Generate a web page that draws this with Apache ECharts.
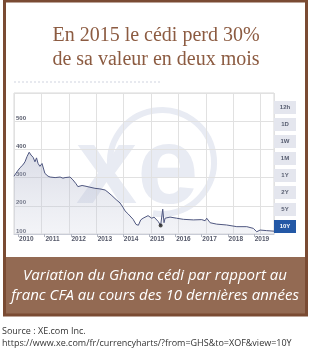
<!DOCTYPE html>
<html>
<head>
<meta charset="utf-8">
<script src="https://cdn.jsdelivr.net/npm/echarts@6/dist/echarts.min.js"></script>
<style>
  html, body { margin: 0; padding: 0; background: #ffffff; }
  #chart { width: 312px; height: 349px; }
</style>
</head>
<body>
<div id="chart"></div>
<script>
// ---- Data ----
var titleLines = ['En 2015 le cédi perd 30%', 'de sa valeur en deux mois'];
var captionLines = ['Variation du Ghana cédi par rapport au', 'franc CFA au cours des 10 dernières années'];
var sourceLines = ['Source : XE.com Inc.', 'https://www.xe.com/fr/currencyharts/?from=GHS&to=XOF&view=10Y'];
var rangeButtons = ['12h', '1D', '1W', '1M', '1Y', '2Y', '5Y', '10Y'];

// dates as fractional years, values in XOF per GHS
var dates = [2009.53, 2009.64, 2009.76, 2009.87, 2009.95, 2010.03, 2010.11, 2010.18, 2010.26, 2010.33,
  2010.39, 2010.45, 2010.52, 2010.60, 2010.64, 2010.71, 2010.83, 2010.91, 2011.10, 2011.29,
  2011.40, 2011.48, 2011.55, 2011.67, 2011.78, 2011.90, 2011.97, 2012.13, 2012.24, 2012.43,
  2012.62, 2012.81, 2013.01, 2013.12, 2013.27, 2013.43, 2013.58, 2013.69, 2013.77, 2013.88,
  2013.96, 2014.08, 2014.19, 2014.28, 2014.37, 2014.46, 2014.53, 2014.65, 2014.72, 2014.79,
  2014.88, 2014.92, 2015.04, 2015.13, 2015.21, 2015.26, 2015.30, 2015.49, 2015.74, 2016.00,
  2016.38, 2016.70, 2016.83, 2016.89, 2017.02, 2017.27, 2017.65, 2018.04, 2018.42, 2018.67,
  2018.80, 2018.93, 2019.18, 2019.46];
var rates = [305, 320, 335, 345, 356, 375, 390, 380, 372, 356,
  370, 350, 340, 350, 345, 315, 305, 302, 300, 302,
  298, 300, 296, 302, 292, 278, 268, 272, 270, 266,
  262, 260, 256, 248, 236, 222, 210, 195, 182, 172,
  164, 152, 134, 131, 150, 156, 158, 165, 168, 156,
  160, 158, 144, 130, 188, 140, 156, 160, 156, 152,
  150, 151, 147, 156, 140, 135, 132, 126, 126, 120,
  108, 114, 112, 110];
var markedDate = [2015.13];
var markedRate = [130];

var yearLabels = [2010, 2011, 2012, 2013, 2014, 2015, 2016, 2017, 2018, 2019];
var yearTicks = [2009.7, 2010.7, 2011.7, 2012.7, 2013.7, 2014.7, 2015.7, 2016.7, 2017.7, 2018.7];

// ---- Chart ----
var chart = echarts.init(document.getElementById('chart'), null, { renderer: 'canvas' });

var lineData = dates.map(function (d, i) { return [d, rates[i]]; });
var dotData = markedDate.map(function (d, i) { return [d, markedRate[i]]; });

var gridLeft = 14, gridTop = 93, gridRight = 38, gridBottom = 115;

var graphics = [];
// outer frame
graphics.push({ type: 'rect', z: 100, shape: { x: 4.5, y: 1, width: 302, height: 314 },
  style: { fill: null, stroke: '#7a4b33', lineWidth: 3 } });
// caption box
graphics.push({ type: 'rect', z: 99, shape: { x: 4.5, y: 257, width: 302, height: 58 },
  style: { fill: '#936a53', stroke: null } });
// title
titleLines.forEach(function (t, i) {
  graphics.push({ type: 'text', z: 101, x: 156, y: 36 + i * 24,
    style: { text: t, fill: '#8c5b41', font: '20px "Liberation Serif"', align: 'center', verticalAlign: 'middle' } });
});
// caption
captionLines.forEach(function (t, i) {
  graphics.push({ type: 'text', z: 101, x: 155, y: 276 + i * 20,
    style: { text: t, fill: '#ffffff', font: 'italic 15px "Open Sans"', align: 'center', verticalAlign: 'middle' } });
});
// source
sourceLines.forEach(function (t, i) {
  graphics.push({ type: 'text', z: 101, x: 2, y: 331 + i * 12,
    style: { text: t, fill: '#333333', font: '9px "Open Sans"', align: 'left', verticalAlign: 'middle' } });
});
// faint dotted header line
graphics.push({ type: 'line', z: 1, shape: { x1: 14, y1: 82, x2: 160, y2: 82 },
  style: { stroke: '#d0d4e0', lineWidth: 1, lineDash: [2, 2] } });
// range buttons
rangeButtons.forEach(function (b, i) {
  var active = (b === '10Y');
  var y0 = 101 + i * 17;
  graphics.push({ type: 'rect', z: 50, shape: { x: 274, y: y0, width: 22, height: 13 },
    style: { fill: active ? '#2358a6' : '#e4e6ee' } });
  graphics.push({ type: 'text', z: 51, x: 285, y: y0 + 6.5,
    style: { text: b, fill: active ? '#ffffff' : '#555b6e', font: 'bold 6px "Liberation Sans"', align: 'center', verticalAlign: 'middle' } });
});
// watermark logo
graphics.push({ type: 'arc', z: 0, shape: { cx: 162, cy: 162, r: 52, startAngle: 170 * Math.PI / 180, endAngle: 460 * Math.PI / 180, clockwise: true },
  style: { stroke: '#e8ebf3', lineWidth: 6, fill: null } });
graphics.push({ type: 'text', z: 0, x: 76, y: 118,
  style: { text: 'xe', fill: '#e8ebf3', font: 'bold 110px "Liberation Sans"', align: 'left', verticalAlign: 'top' } });

var option = {
  backgroundColor: '#ffffff',
  animation: false,
  grid: { left: gridLeft, top: gridTop, right: gridRight, bottom: gridBottom, show: true, borderColor: '#d9d9d9', borderWidth: 1, backgroundColor: 'transparent' },
  xAxis: [{
    type: 'value', min: 2009.53, max: 2019.46,
    axisLine: { show: true, lineStyle: { color: '#c9ccd6' } },
    axisTick: { show: true, customValues: yearTicks, length: 3, lineStyle: { color: '#b0b4c0' } },
    axisLabel: { customValues: yearLabels, formatter: function (v) { return String(Math.round(v)); },
      color: '#55596a', fontSize: 6.5, fontWeight: 'bold', fontFamily: 'Liberation Sans', margin: 2 },
    splitLine: { show: false }
  }, {
    type: 'value', min: 0, max: 9.49, interval: 1, position: 'bottom',
    axisLine: { show: false }, axisTick: { show: false }, axisLabel: { show: false },
    splitLine: { show: true, lineStyle: { color: '#e1e1e1', width: 1 } }
  }],
  yAxis: {
    type: 'value', min: 100, max: 600, interval: 100,
    axisLine: { show: false }, axisTick: { show: false },
    axisLabel: { inside: true, verticalAlign: 'bottom', margin: 2, color: '#55596a', fontSize: 6, fontWeight: 'bold', fontFamily: 'Liberation Sans',
      formatter: function (v) { return v >= 600 ? '' : String(v); } },
    splitLine: { show: true, lineStyle: { color: '#e1e1e1', width: 1 } }
  },
  series: [{
    type: 'line', xAxisIndex: 0, data: lineData, showSymbol: false, z: 3,
    lineStyle: { color: '#4f5780', width: 1 },
    areaStyle: { origin: 'start', color: new echarts.graphic.LinearGradient(0, 0, 0, 1, [
      { offset: 0, color: 'rgba(160,166,192,0.55)' },
      { offset: 1, color: 'rgba(205,209,224,0.35)' }]) }
  }, {
    type: 'scatter', xAxisIndex: 0, data: dotData, symbol: 'circle', symbolSize: 4, z: 4,
    itemStyle: { color: '#222222' }
  }],
  graphic: graphics
};
chart.setOption(option);
</script>
</body>
</html>
